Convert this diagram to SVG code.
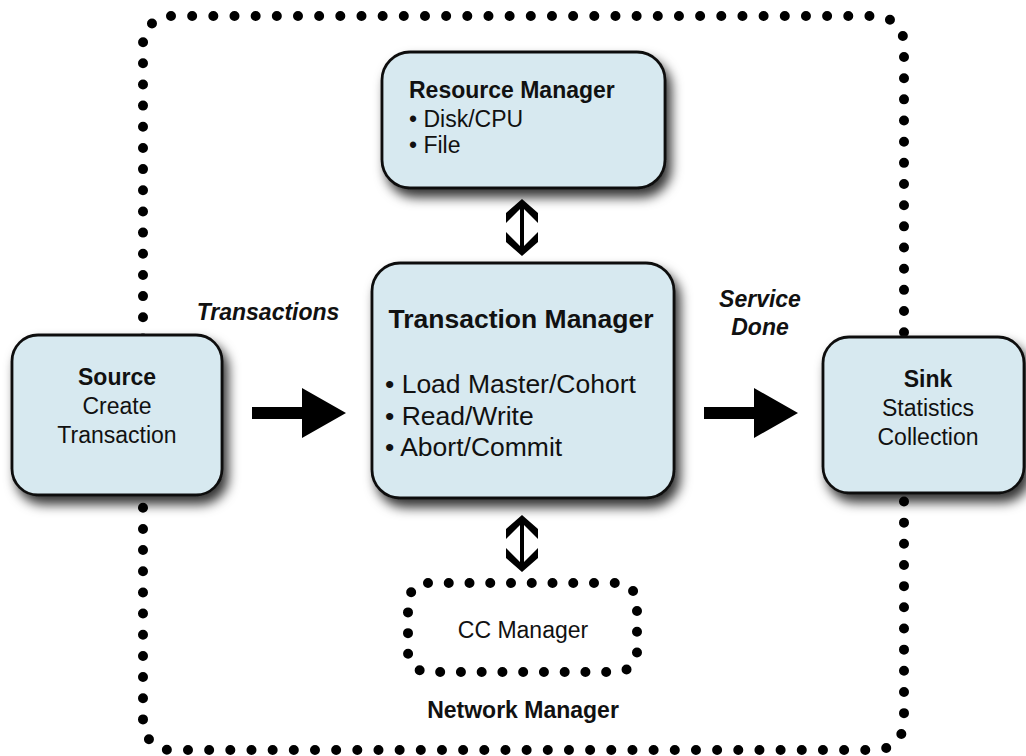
<svg xmlns="http://www.w3.org/2000/svg" width="1026" height="756" viewBox="0 0 1026 756">
<defs>
<filter id="shadow" x="-20%" y="-20%" width="150%" height="160%">
<feDropShadow dx="5" dy="8" stdDeviation="6" flood-color="#000" flood-opacity="0.8"/>
</filter>
</defs>
<style>
.box{fill:#d7e9f0;stroke:#111;stroke-width:2.8;filter:url(#shadow)}
.dots{fill:none;stroke:#000;stroke-width:10;stroke-linecap:round}
text{fill:#111}
.b{font-weight:bold}
.bi{font-weight:bold;font-style:italic}
.f23{font-size:23px}
.f26{font-size:26.5px}
.mid{text-anchor:middle}
.blk{fill:#000}
.shaft{stroke:#000;stroke-width:4}
</style>
<rect width="1026" height="756" fill="#fff"/>
<g font-family="'Liberation Sans', Arial, Helvetica, sans-serif">
<g id="network-manager">
<rect class="dots" x="143" y="16" width="761" height="734" rx="28" stroke-dasharray="0 21.165"/>
<text class="b f23 mid" x="523" y="718" font-family="Liberation Sans">Network Manager</text>
</g>
<g id="cc-manager">
<rect class="dots" x="408" y="583" width="229" height="89" rx="20" stroke-dasharray="0 20.75"/>
<text class="f23 mid" x="523" y="638">CC Manager</text>
</g>
<g id="resource-manager">
<rect class="box" x="382" y="52" width="283" height="136" rx="28"/>
<text class="b f23" x="409" y="98">Resource Manager</text>
<text class="f23" x="409" y="127">• Disk/CPU</text>
<text class="f23" x="409" y="153">• File</text>
</g>
<g id="transaction-manager">
<rect class="box" x="372" y="263" width="302" height="235" rx="28"/>
<text class="b f26 mid" x="521" y="328">Transaction Manager</text>
<text class="f26" x="385" y="393">• Load Master/Cohort</text>
<text class="f26" x="385" y="424.5">• Read/Write</text>
<text class="f26" x="385" y="456">• Abort/Commit</text>
</g>
<g id="source">
<rect class="box" x="12" y="335" width="210" height="160" rx="26"/>
<text class="b f23 mid" x="117" y="385">Source</text>
<text class="f23 mid" x="117" y="414">Create</text>
<text class="f23 mid" x="117" y="443">Transaction</text>
</g>
<g id="sink">
<rect class="box" x="823" y="337" width="201" height="156" rx="26"/>
<text class="b f23 mid" x="928" y="387">Sink</text>
<text class="f23 mid" x="928" y="416">Statistics</text>
<text class="f23 mid" x="928" y="445">Collection</text>
</g>
<g id="connectors">
<polygon class="blk" points="252,407 302,407 302,388 346,413 302,438 302,419 252,419"/>
<text class="bi f23 mid" x="268" y="320">Transactions</text>
<polygon class="blk" points="704,407 754,407 754,388 798,413 754,438 754,419 704,419"/>
<text class="bi f23 mid" x="760" y="307">Service</text>
<text class="bi f23 mid" x="760" y="335">Done</text>
<g id="rm-tm">
<line class="shaft" x1="522" y1="204" x2="522" y2="251"/>
<polygon class="blk" points="522,199 538,213 538,223 522,207 506,223 506,213"/>
<polygon class="blk" points="522,256 538,242 538,232 522,248 506,232 506,242"/>
</g>
<g id="tm-cc">
<line class="shaft" x1="522" y1="520" x2="522" y2="567"/>
<polygon class="blk" points="522,515 538,529 538,539 522,523 506,539 506,529"/>
<polygon class="blk" points="522,572 538,558 538,548 522,564 506,548 506,558"/>
</g>
</g>
</g>
</svg>
